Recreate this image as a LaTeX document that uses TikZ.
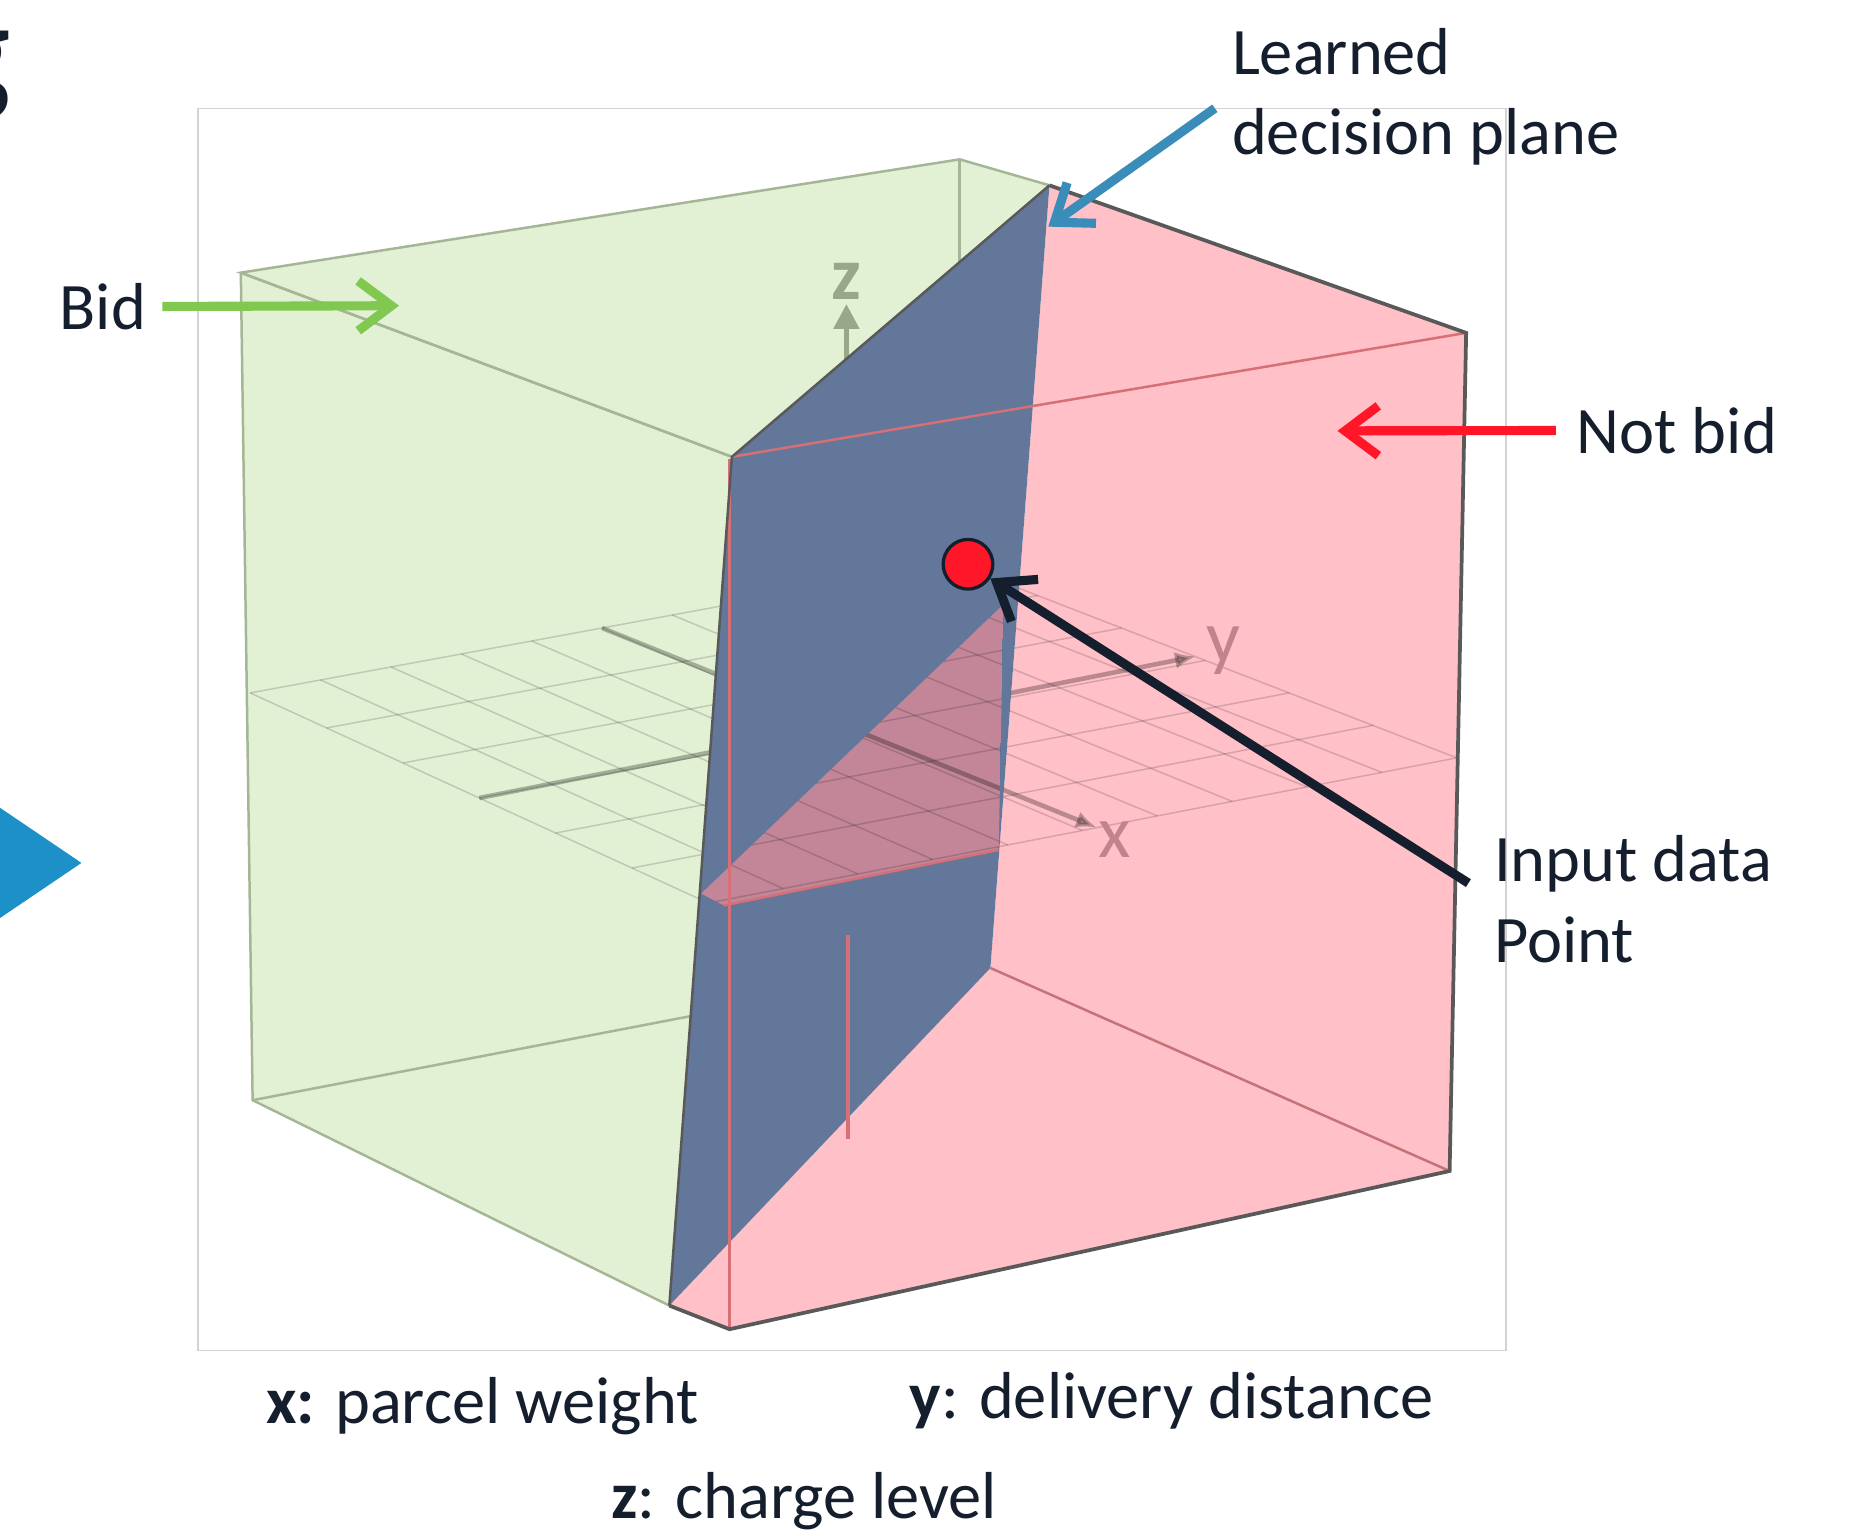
\documentclass[tikz,border=0pt]{standalone}
\usepackage{fontspec}
\setmainfont{Carlito}
\newfontfamily\headfont{Open Sans}
\usepackage{tikz}
\usetikzlibrary{arrows.meta, calc}
\definecolor{inkdark}{RGB}{20, 30, 45}
\definecolor{bidgreen}{RGB}{128, 200, 80}
\definecolor{bidface}{RGB}{226, 240, 212}
\definecolor{bidedge}{RGB}{165, 182, 150}
\definecolor{planeblue}{RGB}{98, 119, 154}
\definecolor{notbidface}{RGB}{255, 192, 199}
\definecolor{notbidred}{RGB}{255, 22, 40}
\definecolor{edgered}{RGB}{214, 112, 118}
\definecolor{floorrose}{RGB}{232, 140, 152}
\definecolor{arrowblue}{RGB}{58, 140, 185}
\definecolor{slideblue}{RGB}{30, 144, 200}
\definecolor{axisgreen}{RGB}{150, 168, 135}
\definecolor{axisrose}{RGB}{196, 130, 140}

% floor grid (needs L, B, R, F)
\newcommand{\floorgrid}{%
  \foreach \i in {0,...,10} {\draw[gridline] ($(L)!\i/10!(B)$) -- ($(F)!\i/10!(R)$);}
  \foreach \j in {0,...,6} {\draw[gridline] ($(L)!\j/6!(F)$) -- ($(B)!\j/6!(R)$);}
}

\begin{document}
\begin{tikzpicture}[x=0.01cm, y=-0.01cm,
    lbl/.style={font=\fontsize{16}{19.4}\selectfont, text=inkdark, inner sep=0pt, align=left},
    callout/.style={-{Straight Barb[length=8pt,width=12pt]}, line width=2.2pt, color=#1},
    gridline/.style={line width=0.35pt, black, opacity=0.16},
    axisline/.style={line width=1.1pt, black, opacity=0.28},
    faceedge/.style={line width=0.6pt, color=#1},
    axislabel/.style={font=\fontsize{18}{18}\selectfont, text=#1, inner sep=1pt}
]
\useasboundingbox (0,0) rectangle (1568,1301);

% Cube corners
\coordinate (gTL) at (204,231);
\coordinate (gTB) at (813,135);
\coordinate (gBL) at (214,932);
\coordinate (T) at (889,157);
\coordinate (P1) at (620,387);
\coordinate (P2) at (567,1106);
\coordinate (P3) at (839,820);
\coordinate (pTR) at (1242,282);
\coordinate (pBR) at (1228,992);
\coordinate (pBF) at (618,1126);

% Floor corners
\coordinate (L) at (212,587);
\coordinate (B) at (808,477);
\coordinate (R) at (1234,642);
\coordinate (F) at (600,765);

% Frame
\draw[gray!35, line width=0.4pt] (168,92) rectangle (1276,1144);

% Faces
\fill[bidface] (gTL) -- (gTB) -- (T) -- (P1) -- (P2) -- (gBL) -- cycle;
\fill[notbidface] (T) -- (pTR) -- (pBR) -- (pBF) -- (P2) -- (P3) -- cycle;

% Hidden green edges
\draw[faceedge=bidedge] (gTL) -- (P1);
\draw[faceedge=bidedge] (gBL) -- (610,856);
\draw[faceedge=bidedge] (gTB) -- (813,250);
\draw[faceedge=edgered!80!gray] (P3) -- (pBR);

% Floor grid and axes
\floorgrid
\coordinate (xtail) at ($(L)!0.5!(B)$);
\coordinate (xtip) at (929,701);
\coordinate (ytail) at ($(L)!0.5!(F)$);
\coordinate (ytip) at (1013,556);
\draw[axisline, -{Latex[length=5pt,width=4pt]}] (xtail) -- (xtip);
\draw[axisline, -{Latex[length=5pt,width=4pt]}] (ytail) -- (ytip);
\node[axislabel=axisrose] (xaxis) at (944,711) {x};
\node[axislabel=axisrose] (yaxis) at (1036,551) {y};

% z axis
\coordinate (zfoot) at (717,330);
\node[axislabel=axisgreen, font=\fontsize{18}{18}\selectfont\bfseries] (zaxis) at (717,238) {z};
\draw[axisgreen, line width=1.3pt, -{Triangle[length=6pt,width=6pt]}] (zfoot) -- (zaxis.south);

% Decision plane
\fill[planeblue] (P1) -- (T) -- (P3) -- (P2) -- cycle;

% Floor part in front of the plane
\begin{scope}
  \clip (850,512) -- (594,757) -- (613,767) -- (846,720) -- cycle;
  \fill[floorrose, opacity=0.72] (850,512) -- (594,757) -- (613,767) -- (846,720) -- cycle;
  \floorgrid
  \draw[axisline] (xtail) -- (xtip);
\end{scope}
\draw[faceedge=edgered] (613,767) -- (846,720);

% Red edges seen through
\draw[faceedge=edgered] (P1) -- (pTR);
\draw[faceedge=edgered] (618,389) -- (pBF);
\draw[edgered, line width=1pt] (718,792) -- (718,965);

% Outlines
\draw[faceedge=bidedge] (P1) -- (gTL) -- (gTB) -- (T);
\draw[faceedge=bidedge] (gTL) -- (gBL) -- (P2);
\draw[faceedge={black!65}] (P2) -- (P1) -- (T);
\draw[faceedge={black!65}, line width=0.9pt] (T) -- (pTR) -- (pBR) -- (pBF) -- (P2);

% Input data point
\node[circle, minimum size=0.42cm, inner sep=0pt, fill=notbidred, draw=inkdark, line width=0.8pt] (dot) at (820,478) {};

% Labels
\node[lbl, anchor=base west] (bid) at (50,279) {Bid};
\node[lbl, anchor=base west] (notbid) at (1335,384) {Not bid};
\node[lbl, anchor=base west] (plane) at (1043,131) {Learned\\decision plane};
\node[lbl, anchor=base west] (input) at (1265,815) {Input data\\Point};
\node[lbl, anchor=base west] (xname) at (225,1206) {\textbf{x:} parcel weight};
\node[lbl, anchor=base west] (yname) at (770,1202) {\textbf{y}: delivery distance};
\node[lbl, anchor=base west] (zname) at (517,1286) {\textbf{z}: charge level};

% Callout arrows
\coordinate (bidtip) at (338,259);
\coordinate (notbidtip) at (1133,365);
\coordinate (planetip) at (888,192);
\draw[callout=bidgreen, shorten <=0.13cm] (bid.east) -- (bidtip);
\draw[callout=notbidred, shorten <=0.17cm] (notbid.west) -- (notbidtip);
\draw[callout=arrowblue, shorten <=0.17cm] (plane.west) -- (planetip);
\draw[callout=inkdark, shorten <=0.25cm] (input.west) -- (dot);

% Slide fragments at the left edge
\node[font=\headfont\fontsize{28}{28}\selectfont\bfseries, text=inkdark, inner sep=0pt, anchor=base east] (gfrag) at (9,80) {g};
\fill[slideblue] (-30,664) -- (69,731) -- (-30,798) -- cycle;

\end{tikzpicture}
\end{document}
